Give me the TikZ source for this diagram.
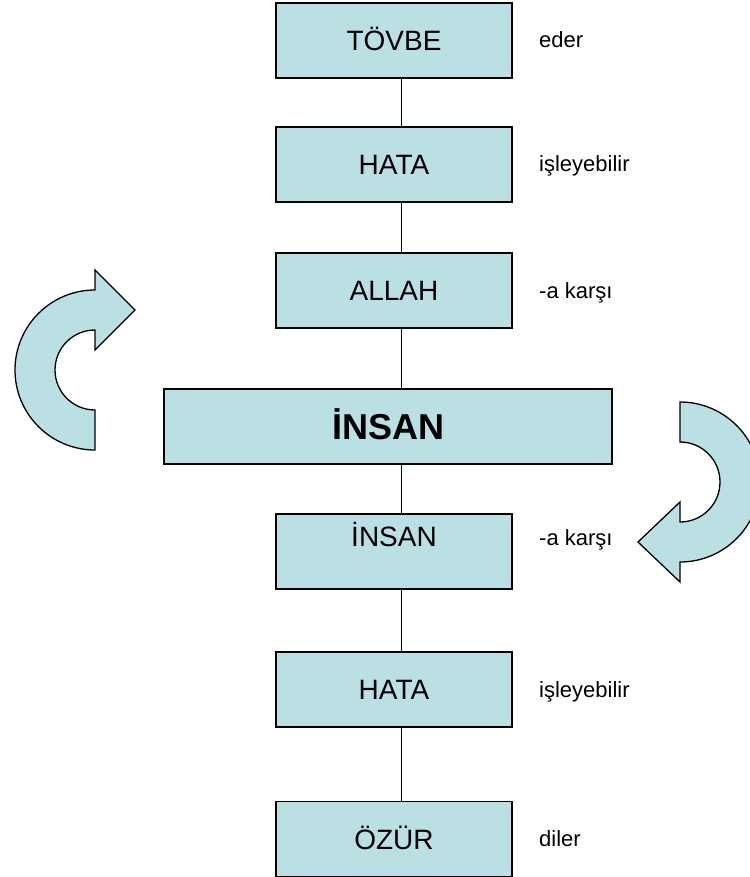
\documentclass[tikz,border=0pt]{standalone}
\usepackage{fontspec}
\setmainfont{Liberation Sans}
\definecolor{boxblue}{HTML}{BBE0E3}
\begin{document}
\begin{tikzpicture}[x=1pt,y=1pt,
  box/.style={draw=black, fill=boxblue, line width=1.3pt, minimum width=236pt, minimum height=75pt, inner sep=0pt,
    font=\fontsize{28}{32}\selectfont, text height=20pt, text depth=0pt},
  bigbox/.style={box, minimum width=448pt, font=\fontsize{36}{40}\selectfont\bfseries, text height=26pt},
  lbl/.style={anchor=base west, inner sep=0pt, font=\fontsize{22}{26}\selectfont},
  conn/.style={line width=1pt, black},
  curvearrow/.style={draw=black, fill=boxblue, line width=1.3pt, line join=miter}]
\useasboundingbox (0,0) rectangle (749,-877);
\coordinate (lx) at (401,0);

\node[box] (tovbe) at (394,-40.5) {TÖVBE};
\node[box] (hata1) at (394,-164.5) {HATA};
\node[box] (allah) at (394,-290.5) {ALLAH};
\node[bigbox] (insanbig) at (388,-426.5) {İNSAN};
\node[box, text depth=31pt] (insan) at (394,-551.5) {İNSAN};
\node[box] (hata2) at (394,-689.5) {HATA};
\node[box] (ozur) at (394,-839) {ÖZÜR};

\draw[conn] (tovbe.south -| lx) -- (hata1.north -| lx);
\draw[conn] (hata1.south -| lx) -- (allah.north -| lx);
\draw[conn] (allah.south -| lx) -- (insanbig.north -| lx);
\draw[conn] (insanbig.south -| lx) -- (insan.north -| lx);
\draw[conn] (insan.south -| lx) -- (hata2.north -| lx);
\draw[conn] (hata2.south -| lx) -- (ozur.north -| lx);

\node[lbl] (l1) at (539,-48) {eder};
\node[lbl] (l2) at (539,-172) {işleyebilir};
\node[lbl] (l3) at (539,-298) {-a karşı};
\node[lbl] (l4) at (539,-545) {-a karşı};
\node[lbl] (l5) at (539,-697) {işleyebilir};
\node[lbl] (l6) at (539,-846) {diler};

% left curved arrow
\draw[curvearrow] (95,-450) arc[start angle=270, end angle=90, radius=80]
  -- (95,-270) -- (135,-310) -- (95,-350) -- (95,-330)
  arc[start angle=90, end angle=270, radius=40] -- cycle;
% right curved arrow
\draw[curvearrow] (680,-402) arc[start angle=90, end angle=-90, radius=80]
  -- (680,-582) -- (638,-542) -- (680,-502) -- (680,-522)
  arc[start angle=-90, end angle=90, radius=40] -- cycle;
\end{tikzpicture}
\end{document}
